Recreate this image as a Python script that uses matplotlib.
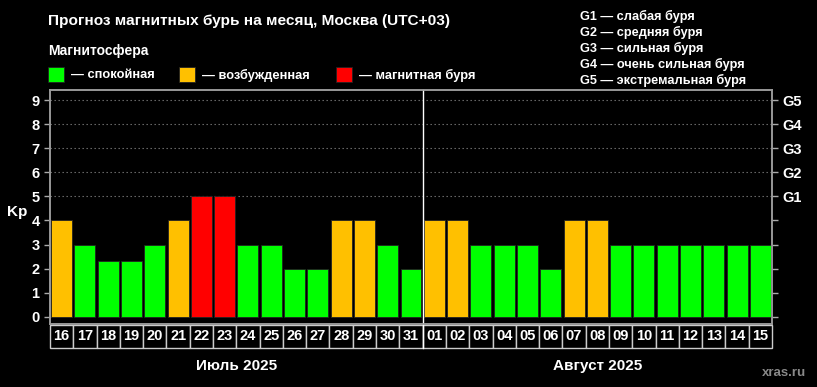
import matplotlib
matplotlib.use("Agg")
import matplotlib.pyplot as plt
from matplotlib.patches import Rectangle
from matplotlib.transforms import blended_transform_factory

plt.rcParams['font.family'] = ['Liberation Sans', 'DejaVu Sans']
plt.rcParams['font.weight'] = 'bold'

days = ["16", "17", "18", "19", "20", "21", "22", "23", "24", "25", "26", "27", "28", "29", "30", "31",
        "01", "02", "03", "04", "05", "06", "07", "08", "09", "10", "11", "12", "13", "14", "15"]
kp = [4, 3, 2.33, 2.33, 3, 4, 5, 5, 3, 3, 2, 2, 4, 4, 3, 2,
      4, 4, 3, 3, 3, 2, 4, 4, 3, 3, 3, 3, 3, 3, 3]
state = ["b", "c", "c", "c", "c", "b", "s", "s", "c", "c", "c", "c", "b", "b", "c", "c",
         "b", "b", "c", "c", "c", "c", "b", "b", "c", "c", "c", "c", "c", "c", "c"]
months = ["Июль 2025", "Август 2025"]
month_len = [16, 15]
left_ticks = list(range(10))
g_labels = ["G1", "G2", "G3", "G4", "G5"]
g_legend = ["G1 — слабая буря", "G2 — средняя буря", "G3 — сильная буря",
            "G4 — очень сильная буря", "G5 — экстремальная буря"]
state_colors = {"c": "#00ff00", "b": "#ffc000", "s": "#ff0000"}
legend_items = [("c", "— спокойная"), ("b", "— возбужденная"), ("s", "— магнитная буря")]

W, H = 817, 387
fig = plt.figure(figsize=(W / 100, H / 100), dpi=100, facecolor="black")

def fx(x):
    return x / W

def fy(y):
    return 1 - y / H

ax = fig.add_axes([fx(50), fy(324), fx(772) - fx(50), fy(90) - fy(324)])
ax.set_facecolor("black")
n = len(days)
x = list(range(n))
ax.bar(x, kp, width=0.9, color=[state_colors[s] for s in state], edgecolor="#222222",
       linewidth=0.6, zorder=3)
ax.set_xlim(-0.5, n - 0.5)
ax.set_ylim(-0.3, 9.42)
for g in range(5, 10):
    ax.axhline(g, color="#777777", linestyle=(0, (1.2, 2.4)), linewidth=0.8, zorder=1)

ax.set_yticks(left_ticks)
ax.set_yticklabels([str(t) for t in left_ticks], color="white", fontsize=10.5, fontweight="bold")
ax.set_xticks([])
ax.tick_params(axis="y", colors="#aaaaaa", length=4, width=1, labelcolor="white")
for sp in ax.spines.values():
    sp.set_color("#999999")
    sp.set_linewidth(1.2)

ax2 = ax.twinx()
ax2.set_ylim(ax.get_ylim())
ax2.set_yticks(left_ticks)
ax2.set_yticklabels([""] * 5 + g_labels, color="white", fontsize=10.5, fontweight="bold")
ax2.tick_params(axis="y", colors="#aaaaaa", length=4, width=1, labelcolor="white")
for sp in ax2.spines.values():
    sp.set_color("#999999")
    sp.set_linewidth(1.2)

ax.set_ylabel("Kp", color="white", fontsize=11, fontweight="bold", rotation=0, labelpad=12)
ax.yaxis.set_label_coords(-0.045, 0.45)

# separator between months
trans = blended_transform_factory(ax.transData, ax.transAxes)
cell_top = (324 - 325) / (324 - 90)
cell_bot = (324 - 348) / (324 - 90)
ax.plot([month_len[0] - 0.5] * 2, [1, cell_bot], transform=trans, color="white",
        linewidth=1, clip_on=False, zorder=5)

# date cells
for i, d in enumerate(days):
    ax.add_patch(Rectangle((i - 0.5, cell_bot), 1, cell_top - cell_bot, transform=trans,
                           facecolor="black", edgecolor="#cccccc", linewidth=1, clip_on=False))
    ax.text(i, (cell_top + cell_bot) / 2, d, transform=trans, color="white", fontsize=10.5,
            fontweight="bold", ha="center", va="center", clip_on=False)

start = 0
for m, L in zip(months, month_len):
    ax.text(start + (L - 1) / 2, (324 - 366) / (324 - 90), m, transform=trans, color="white",
            fontsize=11, fontweight="bold", ha="center", va="center", clip_on=False)
    start += L

# header texts
fig.text(fx(48), fy(21), "Прогноз магнитных бурь на месяц, Москва (UTC+03)", color="white",
         fontsize=11.1, fontweight="bold", ha="left", va="center")
fig.text(fx(48), fy(51), "Магнитосфера", color="white", fontsize=10, fontweight="bold",
         ha="left", va="center")
leg_x = [48, 179, 336]
for (s, lab), lx in zip(legend_items, leg_x):
    fig.patches.append(Rectangle((fx(lx), fy(82)), fx(16), fy(67) - fy(82), transform=fig.transFigure,
                                 facecolor=state_colors[s], edgecolor="#222222", linewidth=0.6))
    fig.text(fx(lx + 23), fy(75), lab, color="white", fontsize=9.3, fontweight="bold",
             ha="left", va="center")

for i, t in enumerate(g_legend):
    fig.text(fx(580), fy(16 + i * 16.2), t, color="white", fontsize=9.2, fontweight="bold",
             ha="left", va="center")

fig.text(fx(806), fy(373), "xras.ru", color="#888888", fontsize=9.5, fontweight="bold",
         ha="right", va="center")

fig.savefig("out.png", dpi=100, facecolor="black")
